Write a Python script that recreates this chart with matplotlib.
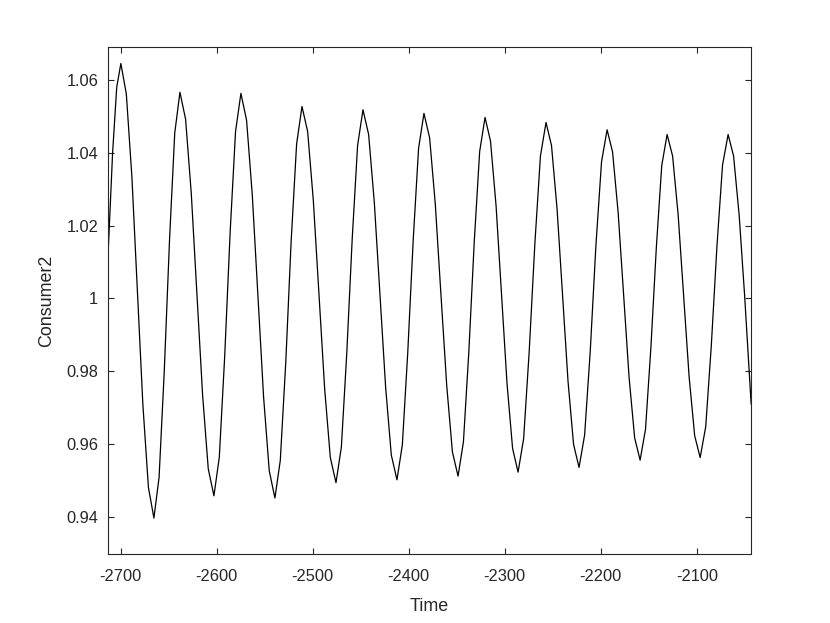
import matplotlib
matplotlib.use("Agg")
import matplotlib.pyplot as plt

plt.rcParams['font.family'] = ['Liberation Sans', 'DejaVu Sans']

# samples
time = [
    -2713.2, -2708.3, -2704.0,
    -2699.7, -2694.0, -2688.2, -2682.5, -2676.8, -2671.0,
    -2665.3, -2659.9, -2654.5, -2649.0, -2643.6,
    -2638.2, -2632.3, -2626.4, -2620.5, -2614.6, -2608.7,
    -2602.8, -2597.2, -2591.6, -2585.9, -2580.3,
    -2574.7, -2568.8, -2562.9, -2557.0, -2551.1, -2545.2,
    -2539.3, -2533.7, -2528.0, -2522.4, -2516.7,
    -2511.1, -2505.2, -2499.3, -2493.4, -2487.5, -2481.6,
    -2475.7, -2470.1, -2464.5, -2458.8, -2453.2,
    -2447.6, -2441.7, -2435.8, -2429.9, -2424.0, -2418.1,
    -2412.2, -2406.6, -2401.0, -2395.3, -2389.7,
    -2384.1, -2378.2, -2372.3, -2366.4, -2360.4, -2354.5,
    -2348.6, -2343.0, -2337.4, -2331.7, -2326.1,
    -2320.5, -2314.8, -2309.0, -2303.3, -2297.6, -2291.8,
    -2286.1, -2280.3, -2274.5, -2268.6, -2262.8,
    -2257.0, -2251.3, -2245.5, -2239.8, -2234.1, -2228.3,
    -2222.6, -2216.8, -2210.9, -2205.1, -2199.2,
    -2193.4, -2187.7, -2181.9, -2176.2, -2170.5, -2164.7,
    -2159.0, -2153.4, -2147.8, -2142.1, -2136.5,
    -2130.9, -2125.2, -2119.4, -2113.7, -2108.0, -2102.2,
    -2096.5, -2090.7, -2084.9, -2079.0, -2073.2,
    -2067.4, -2061.7, -2055.9, -2050.2, -2043.4,
]

consumer2 = [
    1.011, 1.040, 1.058,
    1.0645, 1.0561, 1.0333, 1.0021, 0.9709, 0.9481,
    0.9397, 0.9509, 0.9801, 1.0162, 1.0454,
    1.0566, 1.0492, 1.0289, 1.0012, 0.9735, 0.9532,
    0.9458, 0.9564, 0.9840, 1.0182, 1.0458,
    1.0563, 1.0489, 1.0286, 1.0008, 0.9730, 0.9527,
    0.9452, 0.9555, 0.9824, 1.0156, 1.0424,
    1.0527, 1.0458, 1.0269, 1.0011, 0.9752, 0.9563,
    0.9494, 0.9592, 0.9848, 1.0164, 1.0420,
    1.0518, 1.0450, 1.0264, 1.0010, 0.9756, 0.9570,
    0.9502, 0.9598, 0.9850, 1.0160, 1.0412,
    1.0508, 1.0441, 1.0259, 1.0010, 0.9761, 0.9579,
    0.9512, 0.9606, 0.9852, 1.0157, 1.0403,
    1.0497, 1.0432, 1.0254, 1.0010, 0.9766, 0.9588,
    0.9523, 0.9615, 0.9855, 1.0151, 1.0391,
    1.0483, 1.0420, 1.0246, 1.0010, 0.9773, 0.9599,
    0.9536, 0.9625, 0.9857, 1.0143, 1.0375,
    1.0463, 1.0402, 1.0236, 1.0010, 0.9783, 0.9617,
    0.9556, 0.9641, 0.9865, 1.0141, 1.0365,
    1.0450, 1.0391, 1.0229, 1.0007, 0.9785, 0.9623,
    0.9563, 0.9648, 0.9870, 1.0144, 1.0366,
    1.0450, 1.0391, 1.0229, 1.0008, 0.971,
]

xticks = [-2700, -2600, -2500, -2400, -2300, -2200, -2100]
yticks = [0.94, 0.96, 0.98, 1.00, 1.02, 1.04, 1.06]
ytick_labels = ['0.94', '0.96', '0.98', '1', '1.02', '1.04', '1.06']

axcol = '#262626'

fig = plt.figure(figsize=(8.3, 6.23), dpi=100)
ax = fig.add_axes([0.13, 0.11, 0.775, 0.815])
ax.plot(time, consumer2, color='black', linewidth=0.9)

ax.set_xlim(-2713.2, -2043.4)
ax.set_ylim(0.9297, 1.0691)
ax.set_xticks(xticks)
ax.set_xticklabels([str(v) for v in xticks])
ax.set_yticks(yticks)
ax.set_yticklabels(ytick_labels)

ax.tick_params(direction='in', length=4.6, width=0.8, colors=axcol,
               labelsize=11.8, top=True, right=True)
ax.tick_params(axis='y', pad=7)
ax.tick_params(axis='x', pad=10.5)
for s in ax.spines.values():
    s.set_color(axcol)
    s.set_linewidth(0.8)

ax.set_xlabel('Time', fontsize=12.9, color=axcol, labelpad=10)
ax.set_ylabel('Consumer2', fontsize=12.9, color=axcol, labelpad=8)

fig.savefig('out.png', dpi=100)
